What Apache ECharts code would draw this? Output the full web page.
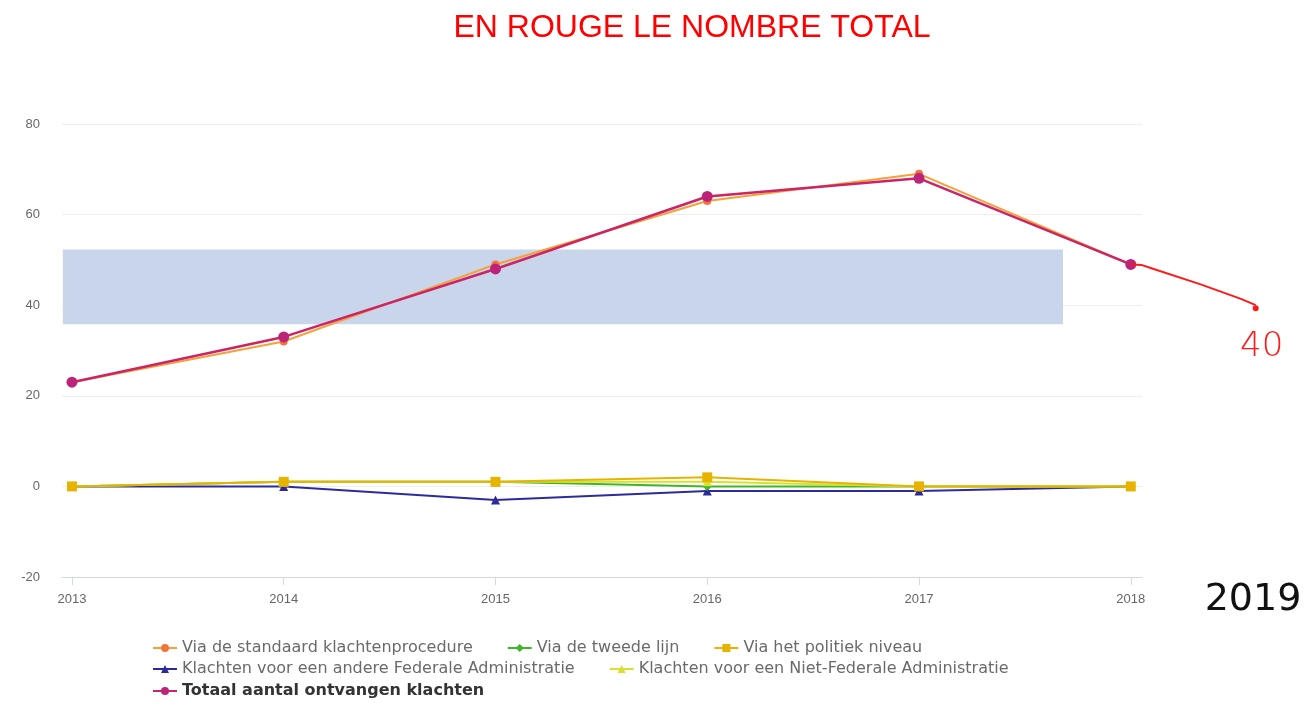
<!DOCTYPE html>
<html>
<head>
<meta charset="utf-8">
<title>Klachten</title>
<script src="https://cdn.jsdelivr.net/npm/echarts@6/dist/echarts.min.js"></script>
<style>
  html, body { margin: 0; padding: 0; background: #fff; }
  #chart { width: 1305px; height: 703px; }
</style>
</head>
<body>
<div id="chart"></div>
<script>
// Years on the horizontal axis
const years = [2013, 2014, 2015, 2016, 2017, 2018];

// Complaint counts per channel
const standaard = [23, 32, 49, 63, 69, 49];
const tweedeLijn = [0, 1, 1, 0, 0, 0];
const politiek = [0, 1, 1, 2, 0, 0];
const andereFederale = [0, 0, -3, -1, -1, 0];
const nietFederale = [0, 1, 1, 1, 0, 0];
const totaal = [23, 33, 48, 64, 68, 49];

// Hand-drawn projection of the total beyond 2018
const projectieX = [2018, 2018.05, 2018.094, 2018.33, 2018.52, 2018.59];
const projectieY = [49, 48.9, 48.2, 44.6, 41.4, 40];

// Shaded band (x range, y range)
const bandX = [2012.957, 2017.68];
const bandY = [35.8, 52.3];

const names = [
  'Via de standaard klachtenprocedure',
  'Via de tweede lijn',
  'Via het politiek niveau',
  'Klachten voor een andere Federale Administratie',
  'Klachten voor een Niet-Federale Administratie',
  'Totaal aantal ontvangen klachten'
];

const FONT = '"Liberation Sans", Arial, sans-serif';
const pairs = (ys) => years.map((y, i) => [y, ys[i]]);

function lineSeries(name, values, color, symbol, size, width, z) {
  return {
    name: name,
    type: 'line',
    data: pairs(values),
    symbol: symbol,
    symbolSize: size,
    lineStyle: { color: color, width: width },
    itemStyle: { color: color },
    z: z
  };
}

function legendRow(top, items) {
  return {
    left: 152,
    top: top,
    itemGap: 34,
    itemWidth: 24,
    itemHeight: 10,
    padding: 0,
    textStyle: { fontSize: 16, color: '#6a6a6a', fontFamily: '"DejaVu Sans", sans-serif' },
    data: items
  };
}

const chart = echarts.init(document.getElementById('chart'));

chart.setOption({
  animation: false,
  backgroundColor: '#ffffff',
  legend: [
    legendRow(640, [names[0], names[1], names[2]]),
    legendRow(661, [names[3], names[4]]),
    legendRow(683, [{ name: names[5], textStyle: { fontWeight: 'bold', color: '#333333' } }])
  ],
  grid: { left: 62, right: 163, top: 124, bottom: 126 },
  xAxis: {
    type: 'value',
    min: 2012.953,
    max: 2018.053,
    axisLine: { onZero: false, lineStyle: { color: '#d4d8e0', width: 1 } },
    axisTick: {
      show: true,
      length: 8,
      customValues: years,
      lineStyle: { color: '#d4d8e0' }
    },
    axisLabel: {
      customValues: years,
      formatter: (v) => String(Math.round(v)),
      color: '#666666',
      fontSize: 13,
      margin: 16,
      fontFamily: FONT
    },
    splitLine: { show: false }
  },
  yAxis: {
    type: 'value',
    min: -20,
    max: 80,
    interval: 20,
    axisLine: { show: false },
    axisTick: { show: false },
    axisLabel: { color: '#666666', fontSize: 13, margin: 22, fontFamily: FONT },
    splitLine: { lineStyle: { color: '#eeeeee', width: 1 } }
  },
  series: [
    Object.assign(lineSeries(names[0], standaard, '#f4743b', 'circle', 8, 2, 3), {
      lineStyle: { color: '#f5a13a', width: 2 }
    }),
    lineSeries(names[1], tweedeLijn, '#3fb52a', 'diamond', 9, 2, 3),
    lineSeries(names[2], politiek, '#e6b400', 'rect', 10, 2, 5),
    lineSeries(names[3], andereFederale, '#2d2a9e', 'triangle', 9, 2, 2),
    lineSeries(names[4], nietFederale, '#d8e22c', 'triangle', 9, 2, 4),
    Object.assign(lineSeries(names[5], totaal, '#bb2479', 'circle', 11, 2.5, 6), {
      lineStyle: { color: '#cc2464', width: 2.5 },
      markArea: {
        silent: true,
        itemStyle: { color: '#c9d5ea' },
        data: [[
          { coord: [bandX[0], bandY[1]] },
          { coord: [bandX[1], bandY[0]] }
        ]],
        z: 1
      }
    })
  ]
});

// Projection drawn past the plot edge, positioned through the chart's own scales
const projPts = projectieX.map((x, i) => chart.convertToPixel({ gridIndex: 0 }, [x, projectieY[i]]));
const endPt = projPts[projPts.length - 1];

chart.setOption({
  graphic: [
    {
      type: 'text',
      x: 692,
      y: 28,
      style: {
        text: 'EN ROUGE LE NOMBRE TOTAL',
        fill: '#ff0000',
        font: '32px "Liberation Sans", Arial, sans-serif',
        textAlign: 'center',
        textVerticalAlign: 'middle'
      }
    },
    {
      type: 'polyline',
      shape: { points: projPts },
      style: { stroke: '#ff1a1a', lineWidth: 2, fill: null },
      z: 20
    },
    {
      type: 'circle',
      shape: { cx: endPt[0], cy: endPt[1] + 3, r: 3 },
      style: { fill: '#ff1a1a' },
      z: 20
    },
    {
      type: 'text',
      x: endPt[0] + 6,
      y: endPt[1] + 42,
      style: {
        text: String(projectieY[projectieY.length - 1]),
        fill: '#ff1a1a',
        font: '200 34px "DejaVu Sans", sans-serif',
        textAlign: 'center',
        textVerticalAlign: 'middle'
      },
      z: 20
    },
    {
      type: 'text',
      x: 1253,
      y: 600,
      style: {
        text: '2019',
        fill: '#111111',
        font: '38px "DejaVu Sans", sans-serif',
        textAlign: 'center',
        textVerticalAlign: 'middle'
      }
    }
  ]
});
</script>
</body>
</html>
